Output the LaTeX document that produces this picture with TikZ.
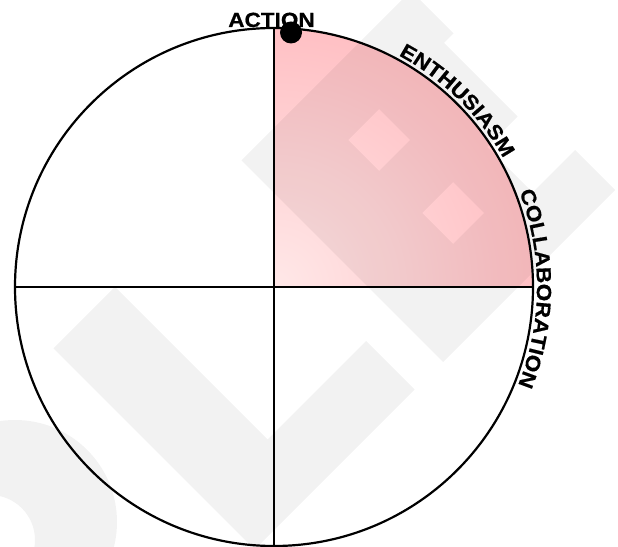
\documentclass[tikz,border=0pt]{standalone}
\usepackage{fontspec}
\setmainfont{Liberation Sans}
\newfontfamily\labfont{Liberation Sans}[FakeStretch=1.1, BoldFeatures={FakeBold=0.6}]
\usetikzlibrary{decorations.text}
\definecolor{pinkin}{RGB}{255,232,232}
\definecolor{pinkout}{RGB}{255,181,186}
\begin{document}
\begin{tikzpicture}[x=1pt,y=1pt,
  rim/.style={line width=2.2pt, draw=black},
  wm/.style={fill=black, fill opacity=0.05},
  labtext/.style={font=\labfont\bfseries\fontsize{20.5}{24}\selectfont},
  arclabel/.style={decorate, decoration={text along path, text align=center, text={#1}}}
]
\useasboundingbox (0,0) rectangle (618,546);
\fill[white] (0,0) rectangle (618,546);
\coordinate (c) at (274,259);
\coordinate (top) at ([shift={(90:259pt)}]c);
\coordinate (bot) at ([shift={(-90:259pt)}]c);
\coordinate (lft) at ([shift={(180:259pt)}]c);
\coordinate (rgt) at ([shift={(0:259pt)}]c);
% pink quadrant
\begin{scope}
\clip (c) -- (top) arc[start angle=90,end angle=0,radius=259pt] -- cycle;
\shade[inner color=pinkin, outer color=pinkout] (c) circle[radius=330pt];
\end{scope}
% watermark
\fill[wm, even odd rule]
  (241.5,385.5) -- (411,555) -- (453.5,512.5) -- (444,503) -- (517.5,429.5) -- (487,399)
  -- (532.5,353.5) -- (575,396) -- (615,356) -- (443,184) -- cycle
  (348,406) -- (379,437) -- (410,406) -- (379,375) -- cycle
  (422,333) -- (453,364) -- (484,333) -- (453,302) -- cycle;
\fill[wm] (115,259) -- (53.5,197.5) -- (254.5,-3.5) -- (414.5,156.5) -- (366,205) -- (267.5,106.5) -- cycle;
\fill[wm, even odd rule] (15,24) circle[radius=102pt] (-10,6) circle[radius=45pt];
% circle and cross
\draw[rim] (c) circle[radius=259pt];
\draw[rim] (lft) -- (rgt);
\draw[rim] (top) -- (bot);
% labels
\node[labtext, anchor=base, inner sep=0] (action) at (271.5,519) {ACTION};
\path[arclabel={|\labfont\bfseries\fontsize{20.5}{24}\selectfont|ENTHUSIASM}]
  ([shift={(75.5:263pt)}]c) arc[start angle=75.5,end angle=15.5,radius=263pt];
\path[arclabel={|\labfont\bfseries\fontsize{20.5}{24}\selectfont|COLLABORATION}]
  ([shift={(35:263pt)}]c) arc[start angle=35,end angle=-35.7,radius=263pt];
\node[circle, fill=black, minimum size=22pt, inner sep=0pt] (dot) at (291,513.5) {};
\end{tikzpicture}
\end{document}
